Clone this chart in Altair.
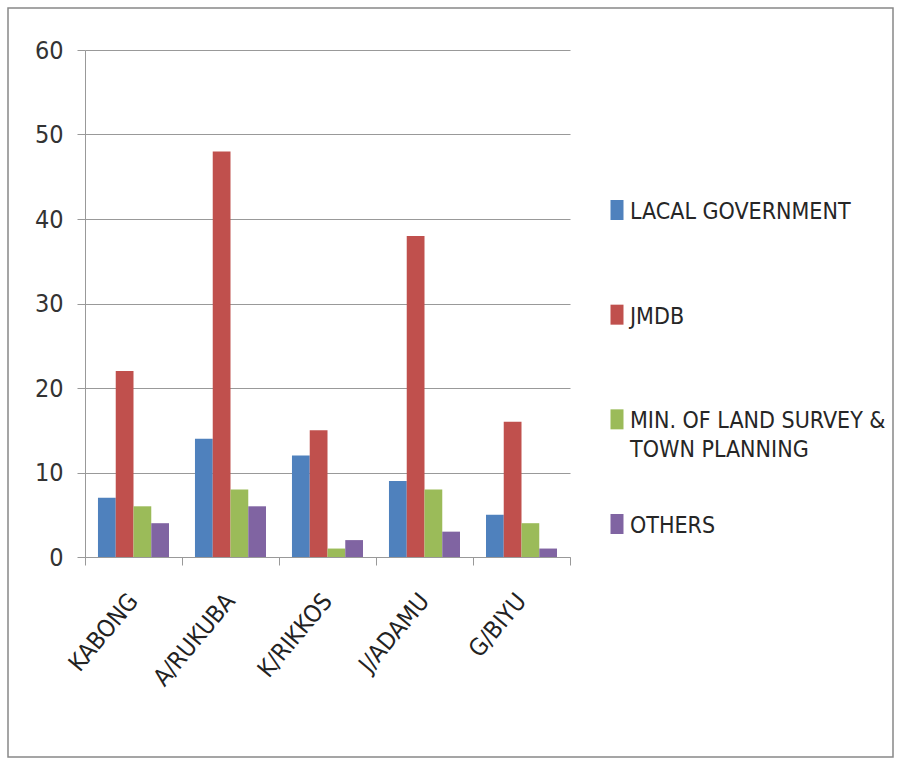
import altair as alt
import pandas as pd

categories = ["KABONG", "A/RUKUBA", "K/RIKKOS", "J/ADAMU", "G/BIYU"]
series = ["LACAL GOVERNMENT", "JMDB", "MIN. OF LAND SURVEY & TOWN PLANNING", "OTHERS"]
series_lines = ["LACAL GOVERNMENT", "JMDB", "MIN. OF LAND SURVEY &\nTOWN PLANNING", "OTHERS"]
local_gov = [7, 14, 12, 9, 5]
jmdb = [22, 48, 15, 38, 16]
min_land = [6, 8, 1, 8, 4]
others = [4, 6, 2, 3, 1]
colors = ["#4F81BD", "#C0504D", "#9BBB59", "#8064A2"]

rows = []
for s, vals in zip(series, [local_gov, jmdb, min_land, others]):
    for c, v in zip(categories, vals):
        rows.append({"area": c, "agency": s, "value": v})
df = pd.DataFrame(rows)
legend_df = pd.DataFrame({"agency": series, "label": series_lines})

FONT = "DejaVu Sans Condensed, sans-serif"
color_scale = alt.Scale(domain=series, range=colors)

bars = alt.Chart(df).mark_bar().encode(
    x=alt.X("area:N", sort=categories, title=None,
            scale=alt.Scale(paddingInner=0, paddingOuter=0),
            axis=alt.Axis(labelAngle=310, labelAlign="right", labelBaseline="middle",
                          labelPadding=32, labelFontSize=24, labelFont=FONT,
                          labelColor="#222", tickBand="extent", tickSize=8,
                          tickColor="#999", domainColor="#999", grid=False)),
    xOffset=alt.XOffset("agency:N", sort=series,
                        scale=alt.Scale(paddingOuter=0.73, paddingInner=0)),
    y=alt.Y("value:Q", title=None,
            scale=alt.Scale(domain=[0, 60], nice=False),
            axis=alt.Axis(values=[0, 10, 20, 30, 40, 50, 60], labelFontSize=25,
                          labelFont=FONT, labelColor="#333", labelPadding=14,
                          tickSize=8, tickColor="#999", domainColor="#999",
                          gridColor="#999", gridWidth=1.2)),
    color=alt.Color("agency:N", sort=series, scale=color_scale, legend=None),
)

legend_y = alt.Y("agency:N", sort=series, axis=None,
                 scale=alt.Scale(type="point", domain=series, range=[160, 474], padding=0))

legend_sq = alt.Chart(legend_df).mark_tick(
    orient="vertical", size=20, thickness=13, opacity=1
).encode(
    x=alt.value(532), y=legend_y,
    color=alt.Color("agency:N", sort=series, scale=color_scale, legend=None),
)
legend_txt = alt.Chart(legend_df).mark_text(
    align="left", baseline="alphabetic", dy=9, fontSize=23, font=FONT,
    color="#262626", lineBreak="\n", lineHeight=29,
).encode(x=alt.value(545), y=legend_y, text="label:N")

frame = alt.Chart(pd.DataFrame({"k": [0]})).mark_rect(
    fill=None, stroke="#888", strokeWidth=1.5, clip=False
).encode(x=alt.value(-77), x2=alt.value(808), y=alt.value(-42), y2=alt.value(707))

chart = alt.layer(frame, bars, legend_sq, legend_txt).resolve_scale(
    y="independent"
).properties(
    width=485, height=507,
    autosize=alt.AutoSizeParams(type="none"),
    padding={"left": 85, "top": 50, "right": 330, "bottom": 208},
    background="white",
).configure_view(stroke=None)

chart.save("out.html", embed_options={"renderer": "svg", "actions": False})
